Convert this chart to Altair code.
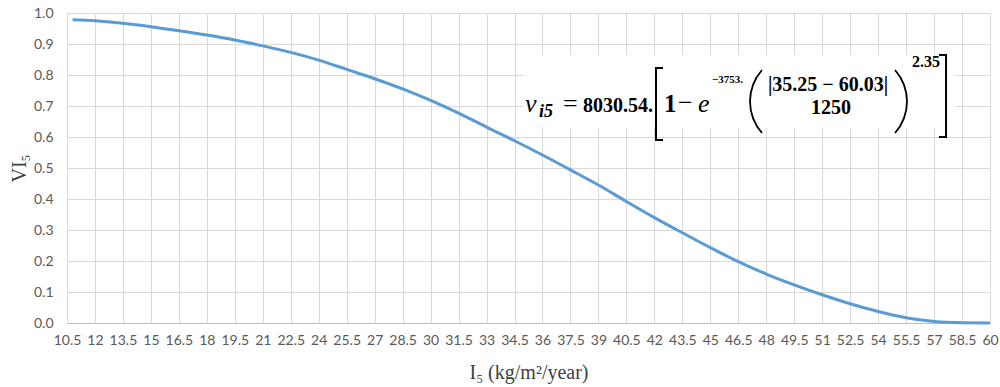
import math
import altair as alt
import pandas as pd

# ---- data ----
x_vals = [10.8, 12, 13.5, 15, 16.5, 18, 19.5, 21, 22.5, 24, 25.5, 27, 28.5, 30, 31.5,
          33, 34.5, 36, 37.5, 39, 40.5, 42, 43.5, 45, 46.5, 48, 49.5, 51, 52.5,
          54, 55.5, 57, 58.5, 60]
vi_vals = [0.978, 0.975, 0.967, 0.956, 0.943, 0.929, 0.913, 0.894, 0.873, 0.848,
           0.818, 0.788, 0.755, 0.718, 0.677, 0.632, 0.588, 0.542, 0.494, 0.445,
           0.392, 0.340, 0.291, 0.243, 0.198, 0.158, 0.123, 0.091, 0.062, 0.037,
           0.017, 0.005, 0.0008, 0.0]
x_ticks = [10.5 + 1.5 * i for i in range(34)]
y_ticks = [0.0, 0.1, 0.2, 0.3, 0.4, 0.5, 0.6, 0.7, 0.8, 0.9, 1.0]

df = pd.DataFrame({"I": x_vals, "VI": vi_vals})

PAD_L, PAD_T = 67, 13
W, H = 923, 310
GRID = "#d9d9d9"
SERIF = "Liberation Serif"

base = alt.Chart(df)

line = base.mark_line(color="#5B9BD5", strokeWidth=3, interpolate="monotone").encode(
    x=alt.X("I:Q",
            scale=alt.Scale(domain=[10.5, 60], nice=False, zero=False),
            axis=alt.Axis(values=x_ticks, labelExpr="datum.value + ''", grid=True,
                          gridColor=GRID, ticks=False, domainColor="#bfbfbf",
                          labelFont="Lato", labelFontSize=14, labelColor="#595959",
                          labelPadding=10, labelOverlap=False, labelFlush=False,
                          title="I₅ (kg/m²/year)", titleFont=SERIF, titleFontSize=20,
                          titleFontWeight="normal", titleColor="#404040",
                          titlePadding=15)),
    y=alt.Y("VI:Q",
            scale=alt.Scale(domain=[0, 1], nice=False),
            axis=alt.Axis(values=y_ticks, format=".1f", grid=True, gridColor=GRID,
                          ticks=False, domain=False, labelFont="Lato",
                          labelFontSize=14, labelColor="#595959", labelPadding=14,
                          title="VI₅", titleFont=SERIF, titleFontSize=20,
                          titleFontWeight="normal", titleColor="#404040",
                          titlePadding=4)),
)


def px(v):
    return alt.value(v - PAD_L)


def py(v):
    return alt.value(v - PAD_T)


one = pd.DataFrame({"k": [0]})
ann = alt.Chart(one)

box = ann.mark_rect(fill="white").encode(
    x=px(523), x2=px(955), y=py(55), y2=py(128))


def txt(s, x, y, size, style="normal", align="left", font=SERIF, weight="normal"):
    return ann.mark_text(text=s, fontSize=size, font=font, fontStyle=style,
                         fontWeight=weight, align=align, baseline="alphabetic",
                         color="black").encode(x=px(x), y=py(y))


def rule(x1, y1, x2, y2, w=2):
    return ann.mark_rule(color="black", strokeWidth=w).encode(
        x=px(x1), y=py(y1), x2=px(x2), y2=py(y2))


def paren(edge_x, y_top, y_bot, sag, left=True):
    half = (y_bot - y_top) / 2.0
    r = (half ** 2 + sag ** 2) / (2 * sag)
    a = math.asin(half / r)
    cy = (y_top + y_bot) / 2.0
    if left:
        cx = edge_x + r
        t1, t2 = 1.5 * math.pi - a, 1.5 * math.pi + a
    else:
        cx = edge_x - r
        t1, t2 = 0.5 * math.pi - a, 0.5 * math.pi + a
    return ann.mark_arc(color="black").encode(
        x=px(cx), y=py(cy), theta=alt.value(t1), theta2=alt.value(t2),
        radius=alt.value(r + 0.9), radius2=alt.value(r - 0.9))


parts = [
    txt("v", 525, 112, 26, style="italic"),
    txt("i5", 539, 117, 18, style="italic", weight="bold"),
    txt("=", 563, 112, 26),
    txt("8030.54.", 583, 112, 20, weight="bold"),
    rule(656, 68, 656, 140), rule(655, 68, 663, 68), rule(655, 140, 663, 140),
    txt("1", 664, 112, 25, weight="bold"),
    txt("−", 678, 111, 26),
    txt("e", 698, 112, 26, style="italic"),
    txt("−3753.", 712, 83, 11, weight="bold"),
    paren(750, 70, 133, 12, left=True),
    txt("|35.25 − 60.03|", 828, 91, 20, align="center", weight="bold"),
    txt("1250", 831, 114, 20, align="center", weight="bold"),
    paren(907, 70, 133, 12, left=False),
    txt("2.35", 912, 67, 16, weight="bold"),
    rule(946, 55, 946, 137), rule(939, 55, 947, 55), rule(939, 137, 947, 137),
]

chart = alt.layer(line, box, *parts).properties(
    width=W, height=H,
    autosize=alt.AutoSizeParams(type="none"),
    padding={"left": PAD_L, "top": PAD_T, "right": 10, "bottom": 64},
).configure_view(stroke=None).configure(background="white")

chart.save("out.html", embed_options={"renderer": "svg", "actions": False})
